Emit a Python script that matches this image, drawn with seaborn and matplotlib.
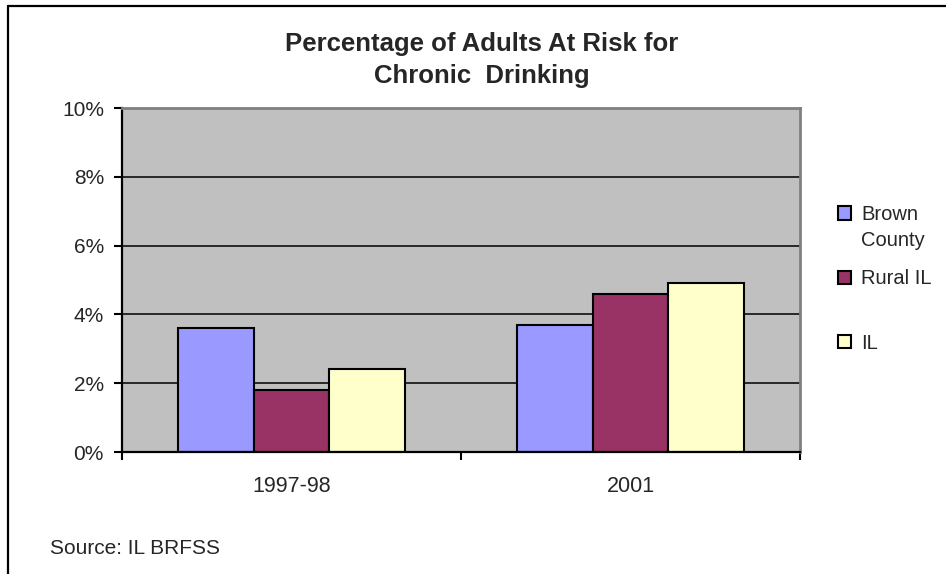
import matplotlib
matplotlib.use("Agg")
import matplotlib.pyplot as plt
from matplotlib.lines import Line2D
import pandas as pd
import seaborn as sns

# Survey periods and groups
periods = ["1997-98", "2001"]
groups = ["Brown", "Rural IL", "IL"]

# Percent of adults at risk for chronic drinking
brown_county = [3.6, 3.7]
rural_il = [1.8, 4.6]
illinois = [2.4, 4.9]

y_ticks = [0, 2, 4, 6, 8, 10]
y_tick_labels = ["0%", "2%", "4%", "6%", "8%", "10%"]

colors = {"Brown": "#9999FF", "Rural IL": "#993366", "IL": "#FFFFCC"}

df = pd.DataFrame({
    "period": periods * 3,
    "group": [g for g in groups for _ in periods],
    "pct": brown_county + rural_il + illinois,
})

sns.set_theme(style="white")
plt.rcParams["font.family"] = ["Liberation Sans", "DejaVu Sans"]

W, H = 946, 574
fig = plt.figure(figsize=(W / 100, H / 100), dpi=100)
ax = fig.add_axes([122 / W, 1 - 452 / H, (800 - 122) / W, (452 - 108) / H])

sns.barplot(data=df, x="period", y="pct", hue="group", hue_order=groups,
            order=periods, palette=colors, width=0.67, gap=0,
            edgecolor="black", linewidth=1.5, saturation=1, ax=ax)

ax.set_facecolor("#C0C0C0")
ax.set_xlim(-0.5, 1.5)
ax.set_ylim(0, 10)
ax.set_xlabel("")
ax.set_ylabel("")

# horizontal gridlines behind the bars
ax.set_axisbelow(True)
ax.yaxis.grid(True, color="black", linewidth=1.1)
ax.xaxis.grid(False)

for side in ("left", "bottom"):
    ax.spines[side].set_color("black")
    ax.spines[side].set_linewidth(1.6)
for side in ("top", "right"):
    ax.spines[side].set_color("#808080")
    ax.spines[side].set_linewidth(2)

ax.set_yticks(y_ticks)
ax.set_yticklabels(y_tick_labels, fontsize=15)
ax.tick_params(axis="y", which="major", direction="out", length=6, width=1.5,
               color="black", left=True, pad=7)

# category labels without marks; marks sit on category boundaries
ax.set_xticks([0, 1])
ax.set_xticklabels(periods, fontsize=15.5)
ax.tick_params(axis="x", which="major", length=0, pad=17)
ax.set_xticks([-0.5, 0.5, 1.5], minor=True)
ax.tick_params(axis="x", which="minor", direction="out", length=6, width=1.5,
               color="black", bottom=True)

# legend
handles, labels = ax.get_legend_handles_labels()
leg = ax.get_legend()
if leg is not None:
    leg.remove()
fig.legend(handles, labels, loc="upper left",
           bbox_to_anchor=(828 / W, 1 - 195 / H), frameon=False,
           fontsize=14.5, handlelength=0.65, handleheight=0.65,
           handletextpad=0.5, labelspacing=2.25, borderpad=0)
fig.text(861 / W, 1 - 241 / H, "County", fontsize=14.5, va="center", ha="left")

# title
fig.text(482 / W, 1 - 60 / H, "Percentage of Adults At Risk for\nChronic  Drinking",
         fontsize=18.5, fontweight="bold", ha="center", va="center",
         linespacing=1.45)

# source note
fig.text(50 / W, 1 - 548 / H, "Source: IL BRFSS", fontsize=15, ha="left", va="center")

# frame around the chart area (top and left edges)
fig.add_artist(Line2D([8 / W, 1], [1 - 6 / H, 1 - 6 / H], color="black",
                      linewidth=1.6, transform=fig.transFigure))
fig.add_artist(Line2D([8 / W, 8 / W], [0, 1 - 6 / H], color="black",
                      linewidth=1.6, transform=fig.transFigure))

fig.savefig("out.png", dpi=100, facecolor="white")
